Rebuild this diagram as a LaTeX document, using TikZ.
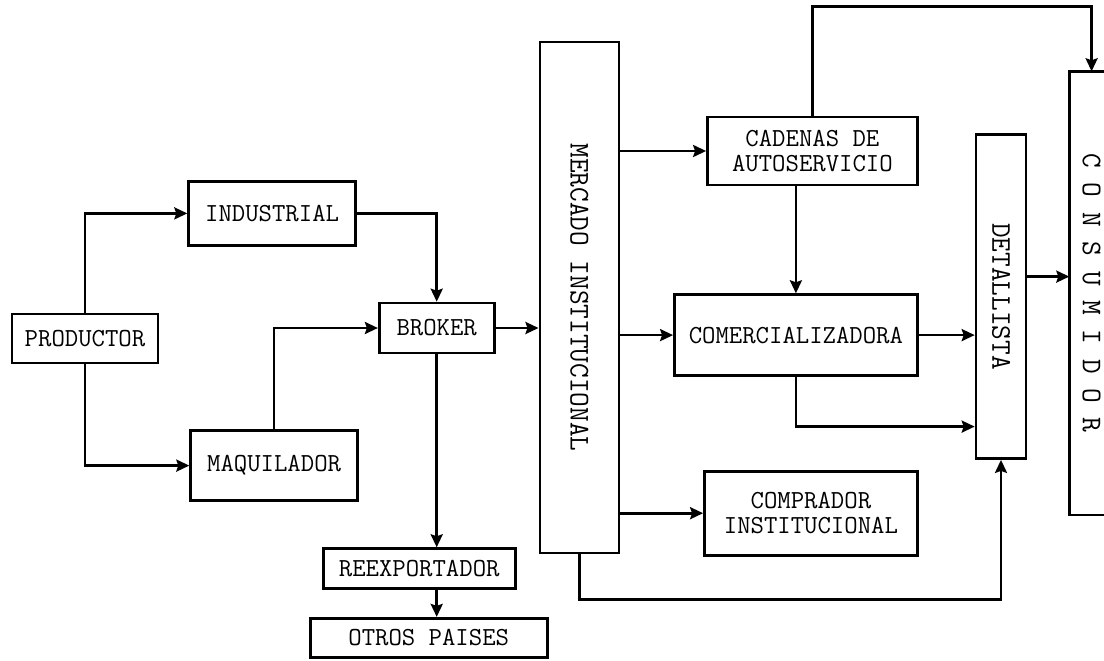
\documentclass[tikz,border=0pt]{standalone}
\usepackage{tikz}
\usetikzlibrary{positioning,arrows.meta}

\begin{document}
\begin{tikzpicture}[->,>={Stealth[length=13pt,width=12pt,inset=2pt]},line width=2.6pt,
                    node distance=40pt]
  \tikzstyle{block}=[draw=black,rectangle,inner sep=0pt,align=center,
                     font=\fontsize{26}{25}\selectfont\ttfamily]
  \tikzstyle{tall}=[block,font=\fontsize{28.5}{30}\selectfont\ttfamily]
  \tikzstyle{vh}=[to path={|- (\tikztotarget)}]
  \tikzstyle{hv}=[to path={-| (\tikztotarget)}]

  \useasboundingbox (0,0) rectangle (1104pt,-661pt);

  \node[block,minimum width=146pt,minimum height=49pt]  (prod)   at (85pt,-338.5pt)                    {PRODUCTOR};
  \node[block,minimum width=167pt,minimum height=64pt]  (ind)    [above right=66pt and 28pt of prod]   {INDUSTRIAL};
  \node[block,minimum width=167pt,minimum height=70pt]  (maq)    [below right=65pt and 30pt of prod]   {MAQUILADOR};
  \node[block,minimum width=115pt,minimum height=50pt]  (broker) [below right=55pt and 21pt of ind]    {BROKER};
  \node[tall,minimum width=79pt,minimum height=511pt]   (merc)   [right=43pt of broker,yshift=30.5pt]  {\rotatebox{-90}{MERCADO INSTITUCIONAL}};
  \node[block,minimum width=192pt,minimum height=40pt]  (reex)   [below=193pt of broker,xshift=-17.5pt] {REEXPORTADOR};
  \node[block,minimum width=237pt,minimum height=39pt]  (otros)  [below=27pt of reex,xshift=9.5pt]     {OTROS PAISES};
  \node[block,minimum width=210pt,minimum height=68pt]  (cad)    [below right=75pt and 86pt of merc.north east] {CADENAS DE\\AUTOSERVICIO};
  \node[block,minimum width=243pt,minimum height=81pt]  (com)    [below left=107pt and 0pt of cad.south east]   {COMERCIALIZADORA};
  \node[block,minimum width=213pt,minimum height=84pt]  (compr)  [below left=93pt and 0pt of com.south east]    {COMPRADOR\\INSTITUCIONAL};
  \node[tall,minimum width=50pt,minimum height=324pt]   (det)    [right=56pt of com,yshift=38.5pt]     {\rotatebox{-90}{DETALLISTA}};
  \node[tall,draw=none,minimum width=42pt,minimum height=441pt] (cons) [right=42pt of det,yshift=3.5pt] {\rotatebox{-90}{C O N S U M I D O R}};

  % consumidor runs off the page on the right
  \draw[-] ([xshift=8pt]cons.north east) -- (cons.north west) -- (cons.south west) -- ([xshift=8pt]cons.south east);

  \coordinate[above=65pt of cons.north] (ctop);
  \coordinate[below=45pt of merc.south] (mbot);
  \coordinate[below=130pt of det.west]  (dlow);
  \coordinate[above=20pt of det.east]   (dup);

  \path (prod.north)                edge [vh]  (ind.west)
        (prod.south)                edge [vh]  (maq.west)
        (ind.east)                  edge [hv]  (broker.north)
        (maq.north)                 edge [vh]  (broker.west)
        (broker.east)               edge       (broker.east -| merc.west)
        (broker.south)              edge       (broker.south |- reex.north)
        (reex.south -| broker.south) edge      (broker.south |- otros.north)
        (merc.east |- cad.west)     edge       (cad.west)
        (merc.east |- com.west)     edge       (com.west)
        (merc.east |- compr.west)   edge       (compr.west)
        (cad.south -| com.north)    edge       (com.north)
        (cad.north)                 edge [to path={|- (ctop) -- (\tikztotarget)}] (cons.north)
        (com.east)                  edge       (com.east -| det.west)
        (com.south)                 edge [vh]  (dlow)
        (dup)                       edge       (dup -| cons.west)
        (merc.south)                edge [to path={-- (mbot) -| (\tikztotarget)}] (det.south);
\end{tikzpicture}
\end{document}
